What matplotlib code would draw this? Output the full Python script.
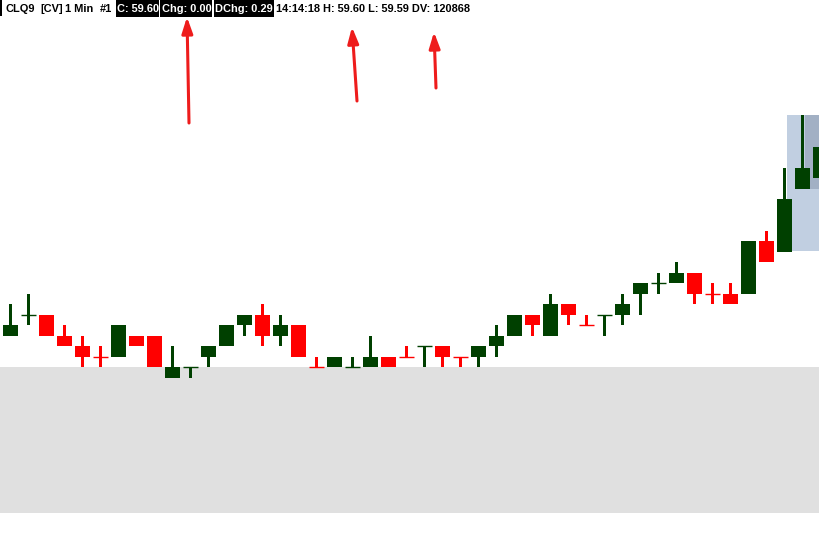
import matplotlib
matplotlib.use('Agg')
import matplotlib.pyplot as plt
from matplotlib.patches import Rectangle

# ---------------- data (1-minute CLQ9 bars) ----------------
opens = [59.39, 59.41, 59.41, 59.39, 59.38, 59.37, 59.37, 59.39, 59.39, 59.35,
         59.36, 59.37, 59.38, 59.40, 59.41, 59.39, 59.40, 59.36, 59.36, 59.36,
         59.36, 59.37, 59.37, 59.38, 59.38, 59.37, 59.37, 59.38, 59.39, 59.41,
         59.39, 59.42, 59.40, 59.41, 59.41, 59.43, 59.44, 59.44, 59.45, 59.43,
         59.43, 59.43, 59.48, 59.47, 59.53, 59.54]
highs = [59.42, 59.43, 59.41, 59.40, 59.39, 59.38, 59.40, 59.39, 59.39, 59.38,
         59.36, 59.38, 59.40, 59.41, 59.42, 59.41, 59.40, 59.37, 59.37, 59.37,
         59.39, 59.37, 59.38, 59.38, 59.38, 59.37, 59.38, 59.40, 59.41, 59.41,
         59.43, 59.42, 59.41, 59.41, 59.43, 59.44, 59.45, 59.46, 59.45, 59.44,
         59.44, 59.48, 59.49, 59.55, 59.60, 59.59]
lows = [59.39, 59.40, 59.39, 59.38, 59.36, 59.36, 59.37, 59.38, 59.36, 59.35,
        59.35, 59.36, 59.38, 59.39, 59.38, 59.38, 59.37, 59.36, 59.36, 59.36,
        59.36, 59.36, 59.37, 59.36, 59.36, 59.36, 59.36, 59.37, 59.39, 59.39,
        59.39, 59.40, 59.40, 59.39, 59.40, 59.41, 59.43, 59.44, 59.42, 59.42,
        59.42, 59.43, 59.46, 59.47, 59.53, 59.54]
closes = [59.40, 59.41, 59.39, 59.38, 59.37, 59.37, 59.40, 59.38, 59.36, 59.36,
          59.36, 59.38, 59.40, 59.41, 59.39, 59.40, 59.37, 59.36, 59.37, 59.36,
          59.37, 59.36, 59.37, 59.38, 59.37, 59.37, 59.38, 59.39, 59.41, 59.40,
          59.42, 59.41, 59.40, 59.41, 59.42, 59.44, 59.44, 59.45, 59.43, 59.43,
          59.42, 59.48, 59.46, 59.52, 59.55, 59.57]
# bar direction as drawn (True = up bar / green)
up = [True, True, False, False, False, False, True, False, False, True,
      True, True, True, True, False, True, False, False, True, True,
      True, False, False, True, False, False, True, True, True, False,
      True, False, False, True, True, True, True, True, False, False,
      False, True, False, True, True, True]

header_plain_1 = ["CLQ9", "[CV]", "1 Min", "#1"]
header_boxed = ["C: 59.60", "Chg: 0.00", "DChg: 0.29"]
header_plain_2 = "14:14:18 H: 59.60 L: 59.59 DV: 120868"

# ---------------- layout ----------------
W, H = 819, 536
GREEN = '#004000'
RED = '#ff0000'
PX_PER_TICK = 10.52
TICK = 0.01
BASE_Y, BASE_P = 378, 59.35
SLOT = 18.0
X0 = 10.5


def price_at(ypx):
    return BASE_P + (BASE_Y - ypx) / PX_PER_TICK * TICK


def idx_at(xpx):
    return (xpx - X0) / SLOT


fig = plt.figure(figsize=(W / 100, H / 100), dpi=100)
fig.patch.set_facecolor('white')
ax = fig.add_axes([0, 0, 1, 1])
ax.set_axis_off()
ax.set_xlim(idx_at(0), idx_at(W))
ax.set_ylim(price_at(H), price_at(0))


def fig_rect(x0, y0, x1, y1, color, z):
    r = Rectangle((x0 / W, 1 - y1 / H), (x1 - x0) / W, (y1 - y0) / H,
                  transform=fig.transFigure, facecolor=color,
                  edgecolor='none', zorder=z)
    fig.add_artist(r)


# background panes
fig_rect(0, 367, W, 513, '#e0e0e0', -2)
fig_rect(787, 115, W, 251, '#c1cfe1', -2)
fig_rect(805, 115, W, 189, '#a2b0c4', -1.5)

# candles
n = len(opens)
xs = list(range(n))
body_w = 15 / SLOT
wick_w = 3 / SLOT
for i in xs:
    col = GREEN if up[i] else RED
    o, h, l, c = opens[i], highs[i], lows[i], closes[i]
    if h > l:
        ax.bar(i, h - l, bottom=l, width=wick_w, color=col, linewidth=0, zorder=2)
    lo, hi = min(o, c), max(o, c)
    if hi > lo:
        ax.bar(i, hi - lo, bottom=lo, width=body_w, color=col, linewidth=0, zorder=3)
    else:
        ax.hlines(o, i - body_w / 2, i + body_w / 2, color=col, linewidth=1.0, zorder=3)

# header
fig_rect(0, 0, 1.5, 16, 'black', 2)
FS = 7.9
FAM = 'Liberation Sans'
FW = 'bold'
base = 1 - 12.5 / H
for s, x in zip(header_plain_1, [5, 40, 65, 100]):
    fig.text(x / W, base, s, fontsize=FS, family=FAM, weight=FW, color='black',
             va='baseline', zorder=5)
box_spans = [(116, 159), (160, 212.5), (213.5, 274)]
for s, (x0, x1) in zip(header_boxed, box_spans):
    fig_rect(x0, 0, x1, 17, 'black', 4)
    fig.text((x0 + 1.5) / W, base, s, fontsize=FS, family=FAM, weight=FW,
             color='white', va='baseline', zorder=5)
fig.text(276 / W, base, header_plain_2, fontsize=FS, family=FAM, weight=FW,
         color='black', va='baseline', zorder=5)

# arrows
arrows = [((187, 17), (189, 123)), ((352, 27), (357, 101)), ((434, 32), (436, 88))]
for (tx, ty), (sx, sy) in arrows:
    ax.annotate('', xy=(tx / W, 1 - ty / H), xycoords='figure fraction',
                xytext=(sx / W, 1 - sy / H), textcoords='figure fraction',
                arrowprops=dict(arrowstyle='-|>,head_length=0.8,head_width=0.27',
                                color='#ee1c1c', lw=2.2, shrinkA=0, shrinkB=0,
                                mutation_scale=12),
                zorder=6)

fig.savefig('out.png', dpi=100, facecolor='white')
